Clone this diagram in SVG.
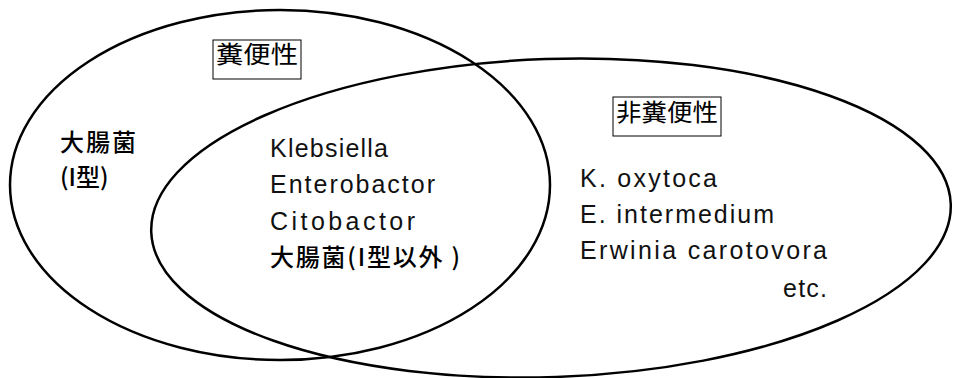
<svg xmlns="http://www.w3.org/2000/svg" width="953" height="378" viewBox="0 0 953 378">
<style>
.set{fill:none;stroke:#000;stroke-width:2.5}
.lat{font-family:"Liberation Sans","Noto Sans CJK JP",sans-serif;font-size:25px;fill:#111}
.cjk{font-family:"Noto Sans CJK JP",sans-serif;font-size:24px;fill:#000}
.b{font-weight:500}
.box{fill:#fff;stroke:#000;stroke-width:1}
</style>
<rect width="953" height="378" fill="#fff"/>
<g id="connectors"></g>
<g id="fecal">
<ellipse class="set" cx="280" cy="185" rx="270" ry="175"/>
</g>
<g id="nonfecal">
<ellipse class="set" cx="551" cy="218" rx="400" ry="159" transform="rotate(-2 551 218)"/>
</g>
<g id="label-fecal">
<rect class="box" x="213" y="40" width="88" height="39"/>
<text class="cjk" x="216" y="63" textLength="82" lengthAdjust="spacingAndGlyphs" font-size="25">糞便性</text>
</g>
<g id="label-nonfecal">
<rect class="box" x="613" y="97" width="108" height="39"/>
<text class="cjk" x="616" y="121" textLength="102" lengthAdjust="spacingAndGlyphs" font-size="25">非糞便性</text>
</g>
<g id="left-only">
<text class="cjk b" x="60" y="151" textLength="76">大腸菌</text>
<text class="cjk b" x="60" y="186">(I型)</text>
</g>
<g id="both">
<text class="lat" x="270" y="157" textLength="118" font-size="26">Klebsiella</text>
<text class="lat" x="270" y="193" textLength="165" font-size="26">Enterobactor</text>
<text class="lat" x="270" y="230" textLength="145" font-size="26">Citobactor</text>
<text class="cjk b" x="270" y="266" textLength="190">大腸菌(I型以外 )</text>
</g>
<g id="right-only">
<text class="lat" x="580" y="187" textLength="137">K. oxytoca</text>
<text class="lat" x="580" y="223" textLength="194">E. intermedium</text>
<text class="lat" x="580" y="259" textLength="247">Erwinia carotovora</text>
<text class="lat" x="783" y="297" textLength="44">etc.</text>
</g>
</svg>
